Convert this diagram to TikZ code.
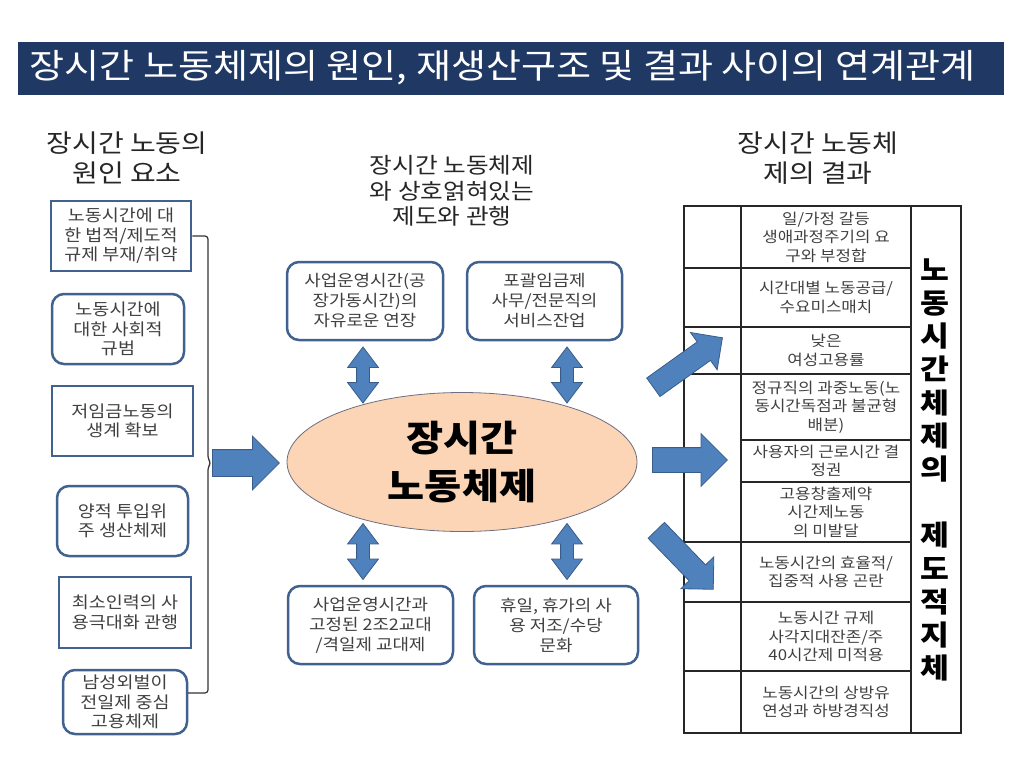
\documentclass[tikz,border=0pt]{standalone}
\usepackage{fontspec}
\setmainfont{Noto Sans CJK KR}[FakeStretch=1.12]
\usepackage{tikz}
\usetikzlibrary{shapes, arrows, positioning, calc}

\definecolor{titlebar}{RGB}{31,56,100}
\definecolor{boxline}{RGB}{65,98,143}
\definecolor{arrowfill}{RGB}{79,129,189}
\definecolor{arrowline}{RGB}{56,93,138}
\definecolor{corefill}{RGB}{251,213,181}
\definecolor{textgray}{RGB}{64,64,64}
\definecolor{headgray}{RGB}{38,38,38}

\begin{document}
\begin{tikzpicture}[x=1pt, y=-1pt,
  cause/.style={draw=boxline, line width=2.5pt, fill=white, align=center, text=textgray, inner sep=0pt, font=\fontsize{16.5}{19.5}\selectfont},
  causeround/.style={cause, rounded corners=12pt},
  practice/.style={cause, rounded corners=12pt, minimum height=78pt, font=\fontsize{16}{20}\selectfont},
  heading/.style={align=center, text=headgray, font=\fontsize{25}{30}\selectfont},
  result/.style={align=center, text=textgray, font=\fontsize{15}{18.5}\selectfont},
  tabline/.style={line width=1.2pt, black!85},
  fatarrow/.style={single arrow, draw=arrowline, fill=arrowfill, line width=0.8pt, inner xsep=0pt, inner ysep=13pt, single arrow head extend=13.5pt, anchor=tail},
  twoway/.style={double arrow, draw=arrowline, fill=arrowfill, line width=0.8pt, inner xsep=0pt, inner ysep=6pt, double arrow head extend=9pt, double arrow tip angle=74, minimum height=56pt, rotate=90}
]
  \useasboundingbox (0,0) rectangle (1024,768);

  % Title bar
  \fill[titlebar] (18,42) rectangle (1004,95);
  \node[anchor=west, text=white, font=\fontsize{34}{36}\selectfont] (title) at (26,68) {장시간 노동체제의 원인, 재생산구조 및 결과 사이의 연계관계};

  % Headings
  \node[heading] (hcause) at (127,158) {장시간 노동의\\원인 요소};
  \node[heading, font=\fontsize{22}{25.5}\selectfont] (hpractice) at (452,191) {장시간 노동체제\\와 상호얽혀있는\\제도와 관행};
  \node[heading] (hresult) at (818,158) {장시간 노동체\\제의 결과};

  % Causes
  \node[cause, minimum width=140pt, minimum height=70pt] (c1) at (121,236) {노동시간에 대\\한 법적/제도적\\규제 부재/취약};
  \node[causeround, minimum width=132pt, minimum height=70pt] (c2) at (118,329) {노동시간에\\대한 사회적\\규범};
  \node[cause, minimum width=141pt, minimum height=70pt] (c3) at (122.5,421) {저임금노동의\\생계 확보};
  \node[causeround, minimum width=131pt, minimum height=70pt] (c4) at (122.5,521) {양적 투입위\\주 생산체제};
  \node[cause, minimum width=132pt, minimum height=71pt] (c5) at (125,612.5) {최소인력의 사\\용극대화 관행};
  \node[causeround, minimum width=124pt, minimum height=64pt] (c6) at (125,702) {남성외벌이\\전일제 중심\\고용체제};

  % Bracket
  \coordinate (brk) at (208,463);
  \draw[line width=1.2pt, black!80, rounded corners=3pt] (c1.east) -- (brk |- c1.east) -- ($(brk)+(0,-4)$) -- ($(brk)+(3,0)$) -- ($(brk)+(0,4)$) -- (208,693) -- (188,693);

  % Core
  \node[ellipse, draw={rgb,255:red,110;green,110;blue,130}, line width=0.8pt, fill=corefill, minimum width=350pt, minimum height=139pt, align=center, font=\fontsize{36}{48}\selectfont\bfseries] (core) at (462,462) {장시간\\노동체제};

  % Practices
  \node[practice, minimum width=156pt] (p1) at (365,301) {사업운영시간(공\\장가동시간)의\\자유로운 연장};
  \node[practice, minimum width=155pt] (p2) at (544.5,301) {포괄임금제\\사무/전문직의\\서비스잔업};
  \node[practice, minimum width=165pt] (p3) at (370.5,625) {사업운영시간과\\고정된 2조2교대\\/격일제 교대제};
  \node[practice, minimum width=164pt] (p4) at (556,625) {휴일, 휴가의 사\\용 저조/수당\\문화};

  % Result table
  \draw[tabline] (684,206) rectangle (961,733);
  \draw[tabline] (741,206) -- (741,733);
  \draw[tabline] (911,206) -- (911,733);
  \foreach \y in {268,327,374,440,482,542,602,671}
    \draw[tabline] (741,\y) -- (911,\y);
  \foreach \y in {268,327,374,542,602,671}
    \draw[tabline] (684,\y) -- (741,\y);

  \node[result] (r1) at (826,237) {일/가정 갈등\\생애과정주기의 요\\구와 부정합};
  \node[result] (r2) at (826,297.5) {시간대별 노동공급/\\수요미스매치};
  \node[result] (r3) at (826,350.5) {낮은\\여성고용률};
  \node[result] (r4) at (826,407) {정규직의 과중노동(노\\동시간독점과 불균형\\배분)};
  \node[result] (r5) at (826,461) {사용자의 근로시간 결\\정권};
  \node[result] (r6) at (826,512) {고용창출제약\\시간제노동\\의 미발달};
  \node[result] (r7) at (826,572) {노동시간의 효율적/\\집중적 사용 곤란};
  \node[result] (r8) at (826,636.5) {노동시간 규제\\사각지대잔존/주\\40시간제 미적용};
  \node[result] (r9) at (826,702) {노동시간의 상방유\\연성과 하방경직성};

  \node[align=center, text=black, font=\fontsize{28}{33.2}\selectfont\bfseries] (lag) at (935,470) {노\\동\\시\\간\\체\\제\\의\\\mbox{}\\제\\도\\적\\지\\체};

  % Block arrows
  \node[fatarrow, minimum height=67pt] (ain) at ($(brk)+(4,0)$) {};
  \node[twoway] (d1) at (363,375) {};
  \node[twoway] (d2) at (567,375) {};
  \node[twoway] (d3) at (363,551.5) {};
  \node[twoway] (d4) at (567,551.5) {};
  \node[fatarrow, inner ysep=11pt, single arrow head extend=11.5pt, minimum height=85pt, rotate=35.6] (aout1) at (653,387.5) {};
  \node[fatarrow, inner ysep=12pt, single arrow head extend=14pt, minimum height=75pt] (aout2) at (652,460) {};
  \node[fatarrow, inner ysep=11pt, single arrow head extend=11.5pt, minimum height=82pt, rotate=-46] (aout3) at (656,530) {};
\end{tikzpicture}
\end{document}
